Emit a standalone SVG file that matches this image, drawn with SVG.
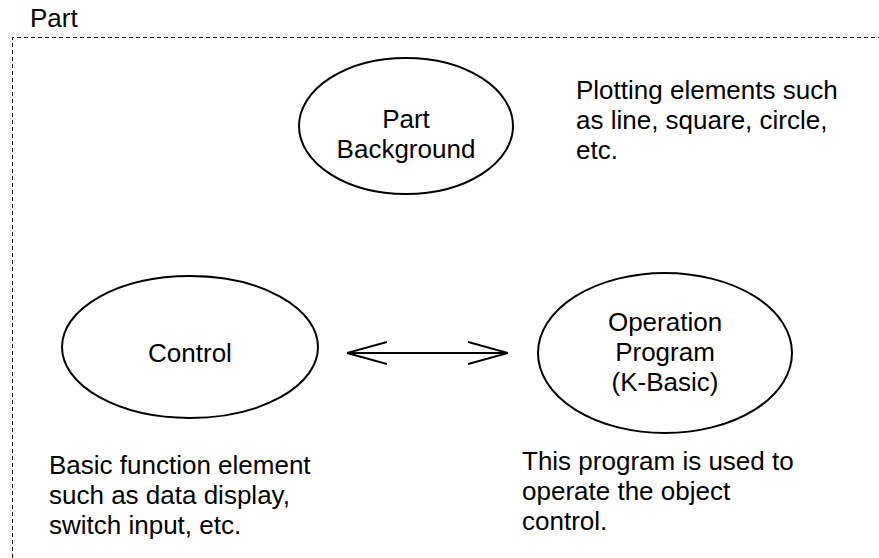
<svg xmlns="http://www.w3.org/2000/svg" width="879" height="558" viewBox="0 0 879 558">
<style>
text{font-family:"Liberation Sans",Arial,sans-serif;font-size:26px;fill:#000}
.c{text-anchor:middle}
.node ellipse{fill:none;stroke:#000;stroke-width:2}
.conn line{stroke:#000;stroke-width:2;fill:none}
</style>
<defs>
<marker id="open" viewBox="0 0 40 24" refX="40" refY="12" markerWidth="40" markerHeight="24" markerUnits="userSpaceOnUse" orient="auto-start-reverse">
<path d="M0,1 L40,12 L0,23" fill="none" stroke="#000" stroke-width="2"/>
</marker>
</defs>
<rect width="879" height="558" fill="#fff"/>
<g id="frame">
<path d="M12.5,558 V37.5 H879" fill="none" stroke="#000" stroke-width="1" stroke-dasharray="4,3"/>
<text x="30" y="27">Part</text>
</g>
<g id="part-background" class="node">
<ellipse cx="406" cy="126" rx="107" ry="68"/>
<text class="c" x="406" y="128">Part</text>
<text class="c" x="406" y="158">Background</text>
</g>
<g id="control" class="node">
<ellipse cx="190" cy="347" rx="128" ry="71"/>
<text class="c" x="190" y="362">Control</text>
</g>
<g id="operation-program" class="node">
<ellipse cx="665" cy="353" rx="127" ry="80"/>
<text class="c" x="665" y="331">Operation</text>
<text class="c" x="665" y="361">Program</text>
<text class="c" x="665" y="391">(K-Basic)</text>
</g>
<g id="notes">
<text x="576" y="99">Plotting elements such</text>
<text x="576" y="129">as line, square, circle,</text>
<text x="576" y="159">etc.</text>
<text x="49" y="474">Basic function element</text>
<text x="49" y="504">such as data display,</text>
<text x="49" y="534">switch input, etc.</text>
<text x="522" y="470">This program is used to</text>
<text x="522" y="500">operate the object</text>
<text x="522" y="530">control.</text>
</g>
<g id="connectors" class="conn">
<line x1="347" y1="353" x2="508" y2="353" marker-start="url(#open)" marker-end="url(#open)"/>
</g>
</svg>
